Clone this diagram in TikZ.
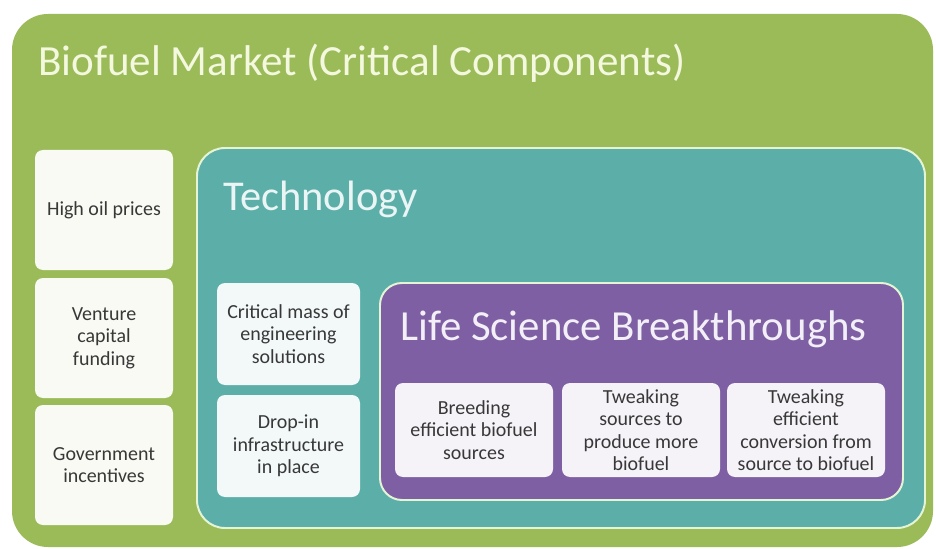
\documentclass[tikz,border=0pt]{standalone}
\usepackage{fontspec}
\setmainfont{Carlito}
\definecolor{marketgreen}{HTML}{9BBB59}
\definecolor{techteal}{HTML}{5BAFA8}
\definecolor{lifepurple}{HTML}{7F5FA3}
\definecolor{edgecream}{HTML}{E6F4D6}
\definecolor{titlecream}{HTML}{F3F8DE}
\tikzset{
  panel/.style={rounded corners=#1, draw=edgecream, line width=1.4pt},
  compbox/.style={rounded corners=0.2cm, align=center, text=black!78,
    font=\fontsize{14.2}{16}\selectfont, inner sep=2pt},
  heading/.style={anchor=base west, inner sep=0pt},
}
\begin{document}
\begin{tikzpicture}
  \useasboundingbox (0,0) rectangle (23.4,13.7);
  % outer market panel
  \node (market) [rounded corners=0.9cm, fill=marketgreen, minimum width=23.025cm, minimum height=13.325cm] at (11.8125,6.6875) {};
  \node (title) [heading, text=titlecream, font=\fontsize{30.6}{36}\selectfont] at (0.95,11.8) {Biofuel Market (Critical Components)};
  % market drivers
  \node (oil) [compbox, fill=white!93!marketgreen, minimum width=3.45cm, minimum height=3cm] at (2.6,8.45) {High oil prices};
  \node (venture) [compbox, fill=white!93!marketgreen, minimum width=3.45cm, minimum height=3cm] at (2.6,5.25) {Venture\\capital\\funding};
  \node (gov) [compbox, fill=white!93!marketgreen, minimum width=3.45cm, minimum height=3cm] at (2.6,2.075) {Government\\incentives};
  % technology panel
  \node (tech) [panel=0.7cm, fill=techteal, minimum width=18.2cm, minimum height=9.5cm] at (14.025,5.25) {};
  \node (techlabel) [heading, text=white!88!techteal, font=\fontsize{30.2}{36}\selectfont] at (5.575,8.45) {Technology};
  \node (mass) [compbox, fill=white!92!techteal, minimum width=3.575cm, minimum height=2.55cm] at (7.2125,5.35) {Critical mass of\\engineering\\solutions};
  \node (dropin) [compbox, fill=white!92!techteal, minimum width=3.575cm, minimum height=2.55cm] at (7.2125,2.55) {Drop-in\\infrastructure\\in place};
  % life science panel
  \node (life) [panel=0.55cm, fill=lifepurple, minimum width=13.075cm, minimum height=5.425cm] at (16.0375,3.9125) {};
  \node (lifelabel) [heading, text=white!90!lifepurple, font=\fontsize{30.5}{36}\selectfont] at (10.0,5.2) {Life Science Breakthroughs};
  \node (breed) [compbox, fill=white!92!lifepurple, minimum width=3.95cm, minimum height=2.35cm] at (11.85,2.95) {Breeding\\efficient biofuel\\sources};
  \node (sources) [compbox, fill=white!92!lifepurple, minimum width=3.95cm, minimum height=2.35cm] at (16.025,2.95) {Tweaking\\sources to\\produce more\\biofuel};
  \node (convert) [compbox, fill=white!92!lifepurple, minimum width=3.95cm, minimum height=2.35cm] at (20.15,2.95) {Tweaking\\efficient\\conversion from\\source to biofuel};
\end{tikzpicture}
\end{document}
